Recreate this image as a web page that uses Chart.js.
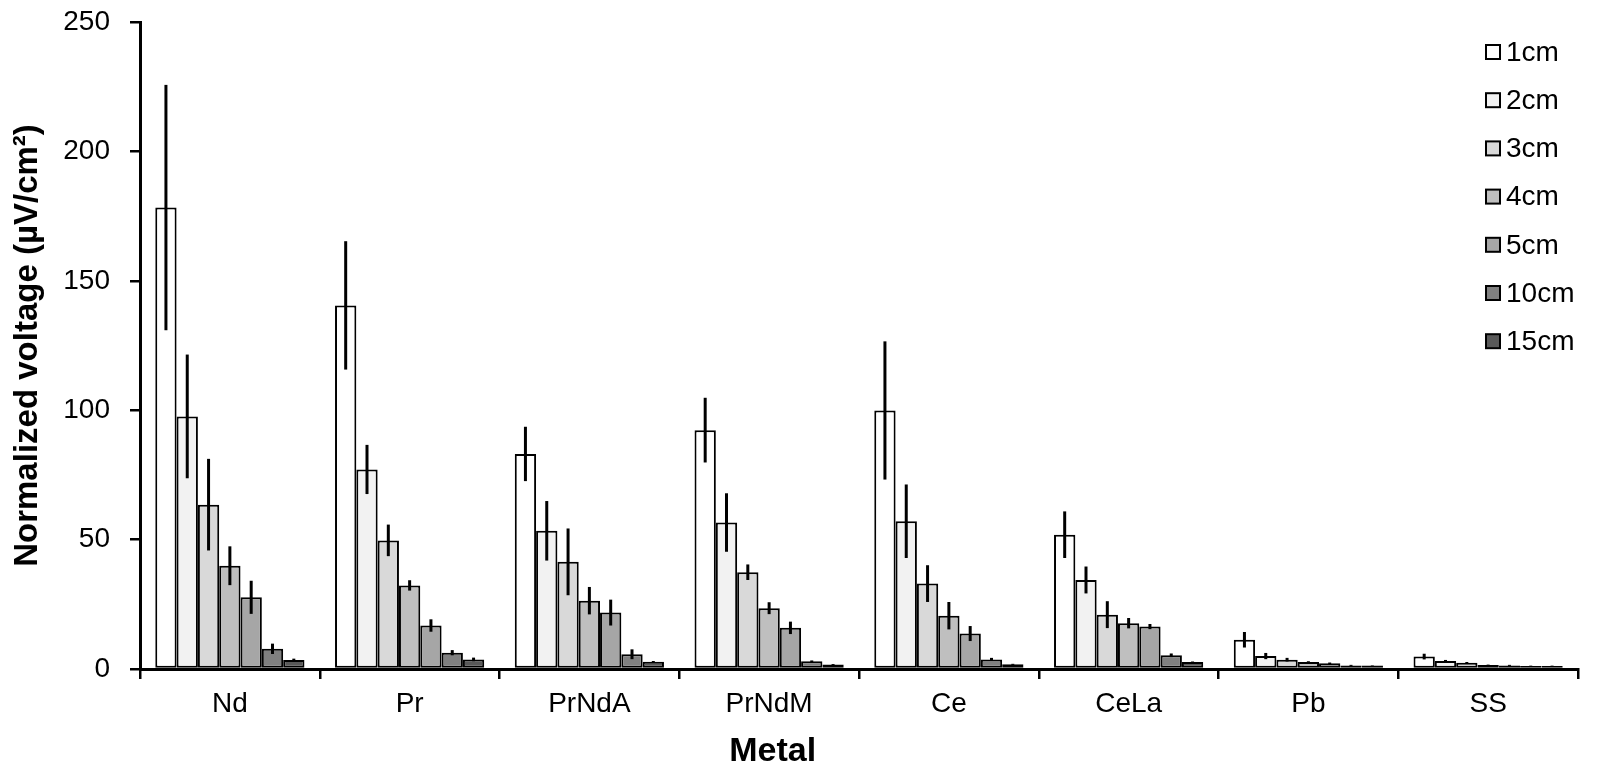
<!DOCTYPE html>
<html lang="en">
<head>
    <meta charset="UTF-8">
    <title>Normalized voltage by metal</title>
    <script src="https://cdn.jsdelivr.net/npm/chart.js"></script>
    <style>
        html, body { margin: 0; padding: 0; background: #fff; }
        #wrap { width: 1600px; height: 764px; }
    </style>
</head>
<body>

<div id="wrap">
    <canvas id="voltageChart" width="1600" height="764"></canvas>
</div>

<script>
// Categories and series
const metals = ["Nd", "Pr", "PrNdA", "PrNdM", "Ce", "CeLa", "Pb", "SS"];
const distances = ["1cm", "2cm", "3cm", "4cm", "5cm", "10cm", "15cm"];
const yTicks = [0, 50, 100, 150, 200, 250];

// Mean values per distance (one entry per metal)
const v1cm  = [178.3, 140.5, 83.1, 92.3, 99.9, 51.9, 11.3, 4.8];
const v2cm  = [97.6, 77.1, 53.4, 56.6, 57.1, 34.4, 5.0, 3.1];
const v3cm  = [63.5, 49.7, 41.4, 37.4, 33.0, 21.0, 3.6, 2.4];
const v4cm  = [39.9, 32.3, 26.4, 23.5, 20.6, 17.7, 2.7, 1.5];
const v5cm  = [27.7, 16.8, 21.8, 15.9, 13.7, 16.4, 2.2, 1.4];
const v10cm = [7.8, 6.3, 5.7, 3.0, 3.7, 5.3, 1.4, 1.2];
const v15cm = [3.5, 3.7, 2.8, 1.7, 1.8, 2.7, 1.4, 1.2];

// Error bars (+/-)
const e1cm  = [47.4, 24.8, 10.5, 12.5, 26.7, 9.0, 3.0, 1.1];
const e2cm  = [23.9, 9.5, 11.5, 11.3, 14.2, 5.2, 1.2, 0.4];
const e3cm  = [17.7, 6.1, 12.9, 3.0, 7.1, 5.2, 0.7, 0.3];
const e4cm  = [7.5, 2.0, 5.3, 2.3, 5.3, 2.0, 0.3, 0.2];
const e5cm  = [6.4, 2.4, 5.0, 2.4, 2.9, 1.0, 0.3, 0.2];
const e10cm = [2.0, 1.0, 1.9, 0.3, 0.6, 0.7, 0.2, 0.1];
const e15cm = [0.5, 0.7, 0.3, 0.2, 0.2, 0.2, 0.1, 0.1];

const values = [v1cm, v2cm, v3cm, v4cm, v5cm, v10cm, v15cm];
const errors = [e1cm, e2cm, e3cm, e4cm, e5cm, e10cm, e15cm];
const fills = ["#ffffff", "#f2f2f2", "#d9d9d9", "#bfbfbf", "#a6a6a6", "#808080", "#595959"];
const xTitle = "Metal";

const FONT = '"Liberation Sans", Arial, sans-serif';
Chart.defaults.font.family = FONT;
Chart.defaults.font.size = 28;
Chart.defaults.color = "#000";

// Vertical error bars, no caps
const errorBarPlugin = {
    id: "errorBars",
    afterDatasetsDraw(chart) {
        const ctx = chart.ctx;
        const yScale = chart.scales.y;
        ctx.save();
        ctx.strokeStyle = "#000";
        ctx.lineWidth = 3;
        chart.data.datasets.forEach((ds, i) => {
            const meta = chart.getDatasetMeta(i);
            meta.data.forEach((bar, j) => {
                const v = ds.data[j];
                const e = ds.errors[j];
                ctx.beginPath();
                ctx.moveTo(bar.x, yScale.getPixelForValue(v + e));
                ctx.lineTo(bar.x, yScale.getPixelForValue(Math.max(v - e, 0)));
                ctx.stroke();
            });
        });
        ctx.restore();
    }
};

// Legend stacked in the top right corner of the plot area + x axis title
const cornerLegend = {
    id: "cornerLegend",
    afterDraw(chart) {
        const ctx = chart.ctx;
        const area = chart.chartArea;
        ctx.save();
        ctx.font = "28px " + FONT;
        ctx.textBaseline = "middle";
        chart.data.datasets.forEach((ds, i) => {
            const x = area.right - 92;
            const y = area.top + 30 + i * 48.2;
            ctx.fillStyle = ds.backgroundColor;
            ctx.fillRect(x, y - 7, 14, 14);
            ctx.lineWidth = 2;
            ctx.strokeStyle = "#000";
            ctx.strokeRect(x, y - 7, 14, 14);
            ctx.fillStyle = "#000";
            ctx.fillText(ds.label, x + 20, y + 1);
        });

        // x title sits a bit left of the plot centre, like the original
        ctx.font = "bold 34px " + FONT;
        ctx.textAlign = "center";
        ctx.fillStyle = "#000";
        ctx.fillText(xTitle, area.left + (area.right - area.left) * 0.44, 752);
        ctx.restore();
    }
};

const datasets = distances.map((d, i) => ({
    label: d,
    data: values[i],
    errors: errors[i],
    backgroundColor: fills[i],
    borderColor: "#000",
    borderWidth: 2,
    borderSkipped: false,
    categoryPercentage: 0.83,
    barPercentage: 1.0
}));

new Chart(document.getElementById("voltageChart").getContext("2d"), {
    type: "bar",
    data: { labels: metals, datasets: datasets },
    plugins: [errorBarPlugin, cornerLegend],
    options: {
        responsive: false,
        animation: false,
        layout: { padding: { left: 0, top: 22, right: 22, bottom: 0 } },
        plugins: {
            legend: { display: false },
            tooltip: { enabled: false }
        },
        scales: {
            x: {
                grid: { offset: true, drawOnChartArea: false, tickLength: 10, color: "#000", lineWidth: 2.5 },
                border: { display: true, color: "#000", width: 3 },
                ticks: { padding: 8 },
                title: { display: false },
                afterFit: (scale) => { scale.height = 95; }
            },
            y: {
                min: 0,
                max: 250,
                afterBuildTicks: (scale) => { scale.ticks = yTicks.map(v => ({ value: v })); },
                grid: { drawOnChartArea: false, tickLength: 10, color: "#000", lineWidth: 2.5 },
                border: { display: true, color: "#000", width: 3 },
                ticks: { padding: 20 },
                title: {
                    display: true,
                    text: "Normalized voltage (µV/cm²)",
                    font: { size: 33, weight: "bold" },
                    padding: { top: 8, bottom: 0 }
                },
                afterFit: (scale) => {
                    scale.width = 140;
                    scale.paddingTop = 0;
                    scale.paddingBottom = 0;
                }
            }
        }
    }
});
</script>
</body>
</html>
